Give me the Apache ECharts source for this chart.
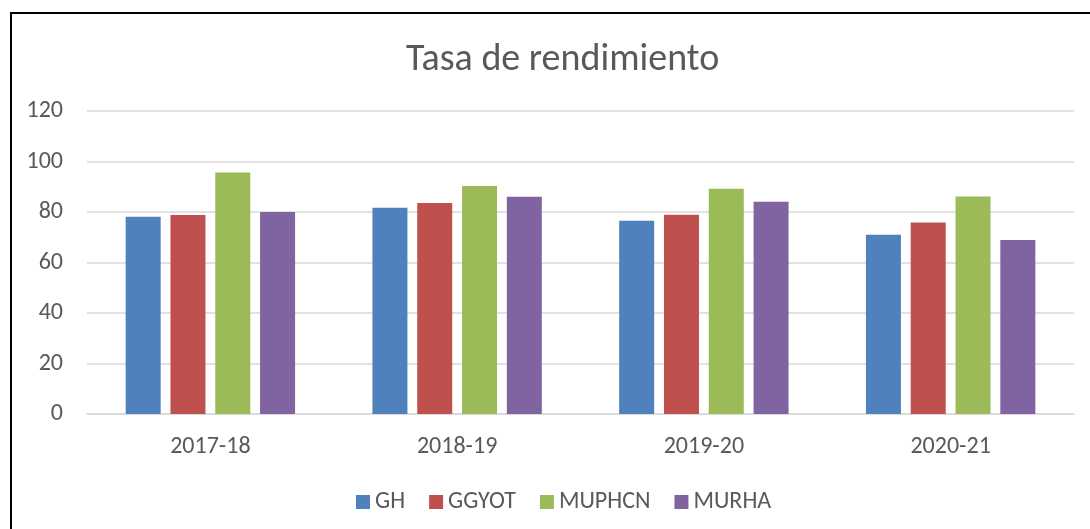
<!DOCTYPE html>
<html>
<head>
<meta charset="utf-8">
<script src="https://cdn.jsdelivr.net/npm/echarts@6/dist/echarts.min.js"></script>
<style>
  html, body { margin: 0; padding: 0; background: #fff; }
  #chart { width: 1090px; height: 529px; }
</style>
</head>
<body>
<div id="chart"></div>
<script>
// data
const years = ["2017-18", "2018-19", "2019-20", "2020-21"]
const gh = [78.1, 81.7, 76.5, 71.0]
const ggyot = [78.8, 83.6, 78.9, 75.8]
const muphcn = [95.6, 90.3, 89.2, 86.1]
const murha = [80.0, 86.0, 84.1, 68.9]
const yTicks = [0, 20, 40, 60, 80, 100, 120]

const seriesDefs = [
  { name: "GH", data: gh, color: "#4F81BD" },
  { name: "GGYOT", data: ggyot, color: "#C0504D" },
  { name: "MUPHCN", data: muphcn, color: "#9BBB59" },
  { name: "MURHA", data: murha, color: "#8064A2" }
]

const chart = echarts.init(document.getElementById("chart"))
const font = "Carlito, 'Open Sans', 'Noto Sans', sans-serif"

chart.setOption({
  animation: false,
  textStyle: { fontFamily: font },
  title: {
    text: "Tasa de rendimiento",
    left: 401,
    top: 36,
    textStyle: { fontSize: 38, fontWeight: "normal", color: "#595959", fontFamily: font }
  },
  legend: {
    top: 485,
    left: 351,
    itemWidth: 14,
    itemHeight: 14,
    itemGap: 24,
    icon: "rect",
    textStyle: { fontSize: 24, color: "#595959", fontFamily: font },
    data: seriesDefs.map(s => s.name)
  },
  grid: { left: 87, right: 16, top: 111, bottom: 115 },
  xAxis: {
    type: "category",
    data: years,
    axisTick: { show: false },
    axisLine: { lineStyle: { color: "#d9d9d9", width: 1.5 } },
    axisLabel: { fontSize: 24, color: "#595959", margin: 21, fontFamily: font }
  },
  yAxis: {
    type: "value",
    min: yTicks[0],
    max: yTicks[yTicks.length - 1],
    interval: 20,
    axisLine: { show: false },
    axisTick: { show: false },
    splitLine: { lineStyle: { color: "#d9d9d9", width: 1.5 } },
    axisLabel: { fontSize: 24, color: "#595959", margin: 24, fontFamily: font }
  },
  graphic: [{
    type: "rect",
    shape: { x: 11, y: 13, width: 1200, height: 700 },
    style: { fill: "none", stroke: "#000", lineWidth: 2 },
    silent: true
  }],
  series: seriesDefs.map(s => ({
    name: s.name,
    type: "bar",
    data: s.data,
    barWidth: 35,
    barGap: "28%",
    itemStyle: { color: s.color }
  }))
})
</script>
</body>
</html>
